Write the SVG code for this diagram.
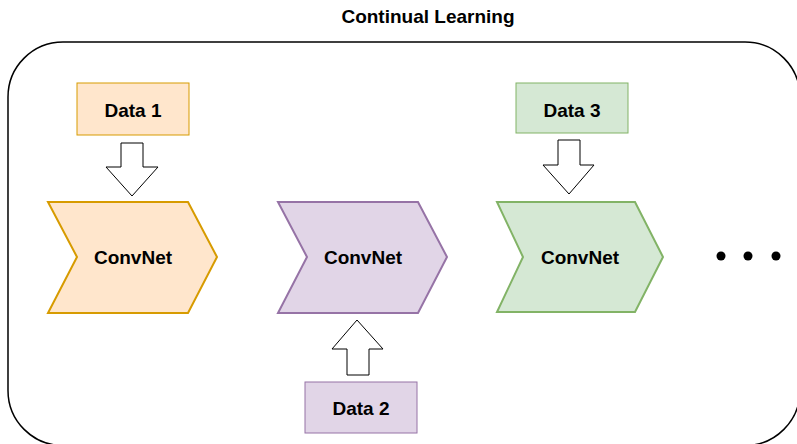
<svg xmlns="http://www.w3.org/2000/svg" width="797" height="444" viewBox="0 0 797 444">
  <style>
    text { font-family: "Liberation Sans", Arial, Helvetica, sans-serif; font-weight: bold; font-size: 19px; fill: #000; text-anchor: middle; }
    .frame { fill: none; stroke: #000; stroke-width: 1.5; }
    .data { stroke-width: 1; }
    .step { stroke-width: 2; }
    .orange { fill: #ffe6cc; stroke: #d79b00; }
    .purple { fill: #e1d5e7; stroke: #9673a6; }
    .green { fill: #d5e8d4; stroke: #82b366; }
    .flow { fill: #fff; stroke: #000; stroke-width: 1; stroke-linejoin: miter; }
    .dot { fill: #000; }
  </style>

  <text x="428" y="23">Continual Learning</text>
  <rect class="frame" x="8" y="42" width="792" height="403.5" rx="55" ry="55"/>

  <!-- task 1 -->
  <g id="data1">
    <rect class="data orange" x="77" y="83" width="112" height="52"/>
    <text x="133" y="116.5">Data 1</text>
  </g>
  <g id="convnet1">
    <polygon class="step orange" points="48,202 188,202 217,257 188,313 48,313 77,257"/>
    <text x="133" y="264">ConvNet</text>
  </g>

  <!-- task 2 -->
  <g id="convnet2">
    <polygon class="step purple" points="278,202 418,202 447,257 418,313 278,313 307,257"/>
    <text x="363" y="264">ConvNet</text>
  </g>
  <g id="data2">
    <rect class="data purple" x="305" y="382" width="112" height="51"/>
    <text x="361" y="415">Data 2</text>
  </g>

  <!-- task 3 -->
  <g id="data3">
    <rect class="data green" x="516" y="83" width="112" height="50"/>
    <text x="572" y="116.5">Data 3</text>
  </g>
  <g id="convnet3">
    <polygon class="step green" points="497,202 635,202 663,257 635,312 497,312 523,257"/>
    <text x="580" y="264">ConvNet</text>
  </g>

  <!-- ellipsis -->
  <g id="more">
    <circle class="dot" cx="721" cy="256" r="4.5"/>
    <circle class="dot" cx="748" cy="256" r="4.5"/>
    <circle class="dot" cx="776" cy="256" r="4.5"/>
  </g>

  <!-- block arrows feeding data into each network -->
  <g id="connectors">
    <polygon class="flow" points="121,143 143,143 143,167 158,167 132,196 106,167 121,167"/>
    <polygon class="flow" points="347,375 369,375 369,349 383,349 357,320 332,349 347,349"/>
    <polygon class="flow" points="558,140 580,140 580,165 594,165 569,194 543,165 558,165"/>
  </g>
</svg>
